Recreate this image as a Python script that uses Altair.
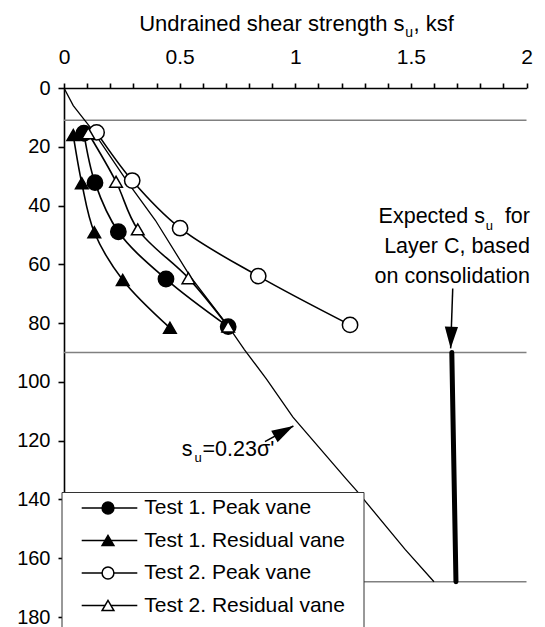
import altair as alt
import pandas as pd

FONT = "Liberation Sans"

# ---------------- data ----------------
series_names = ["Test 1. Peak vane", "Test 1. Residual vane",
                "Test 2. Peak vane", "Test 2. Residual vane"]
series_shapes = ["circle", "triangle-up", "circle", "triangle-up"]
series_fills = ["black", "black", "white", "white"]

depth_t1_peak = [15.4, 32.2, 48.9, 65.0, 81.2]
su_t1_peak = [0.086, 0.134, 0.235, 0.441, 0.710]
depth_t1_res = [16.0, 32.4, 49.1, 65.3, 81.6]
su_t1_res = [0.040, 0.077, 0.131, 0.254, 0.458]
depth_t2_peak = [15.1, 31.5, 47.7, 64.0, 80.6]
su_t2_peak = [0.141, 0.295, 0.502, 0.840, 1.237]
depth_t2_res = [15.4, 31.9, 48.1, 64.7, 81.2]
su_t2_res = [0.105, 0.225, 0.319, 0.538, 0.710]

trend_depth = [0, 6, 11, 14, 32, 45, 64, 81, 89, 99, 112, 133, 137, 157, 168]
trend_su = [0, 0.04, 0.09, 0.12, 0.275, 0.395, 0.545, 0.71, 0.78, 0.875, 0.99, 1.22, 1.265, 1.475, 1.60]

layer_depths = [11, 90, 168]
layer_su_from = 0
layer_su_to = 2

expected_depth = [90, 168]
expected_su = [1.677, 1.695]

x_ticks = [round(i * 0.1, 1) for i in range(21)]
y_ticks = list(range(0, 181, 20))

rows = []
for name, ds, vs in zip(series_names,
                        [depth_t1_peak, depth_t1_res, depth_t2_peak, depth_t2_res],
                        [su_t1_peak, su_t1_res, su_t2_peak, su_t2_res]):
    for d, v in zip(ds, vs):
        rows.append({"series": name, "depth": d, "su": v})
pts = pd.DataFrame(rows)
trend = pd.DataFrame({"depth": trend_depth, "su": trend_su})
layers_df = pd.DataFrame({"depth": layer_depths})
expected_df = pd.DataFrame({"depth": expected_depth, "su": expected_su})
one = alt.Data(values=[{}])

# ---------------- scales / axes ----------------
xs = alt.Scale(domain=[0, 2], nice=False, zero=False)
ys = alt.Scale(domain=[0, 183.4], nice=False, zero=False, reverse=True)

x_axis = alt.Axis(orient="top", values=x_ticks, format="~g",
                  labelExpr="round(datum.value*10) % 5 == 0 ? datum.label : ''",
                  tickSize=5, tickWidth=1.6, tickColor="black",
                  domainColor="black", domainWidth=1.6,
                  labelFont=FONT, labelFontSize=21, labelColor="black",
                  labelPadding=16, labelFlush=False, labelOverlap=False,
                  grid=False, title=None, zindex=0)
y_axis = alt.Axis(orient="left", values=y_ticks,
                  tickSize=6, tickWidth=1.6, tickColor="black",
                  domainColor="black", domainWidth=1.6,
                  labelFont=FONT, labelFontSize=20, labelColor="black",
                  labelPadding=8, labelFlush=False, labelOverlap=False,
                  grid=False, title=None, zindex=0)

X = lambda f: alt.X(f, scale=xs, axis=x_axis)
Y = lambda f: alt.Y(f, scale=ys, axis=y_axis)
XD = lambda v: alt.XDatum(v, scale=xs, axis=x_axis)
YD = lambda v: alt.YDatum(v, scale=ys, axis=y_axis)

# ---------------- data layers ----------------
hlines = alt.Chart(layers_df).mark_rule(color="#808080", strokeWidth=1.5).encode(
    x=XD(layer_su_from), x2=alt.X2Datum(layer_su_to), y=Y("depth:Q"))

trend_line = alt.Chart(trend).mark_line(color="black", strokeWidth=1.3).encode(
    x=X("su:Q"), y=Y("depth:Q"), order="depth:Q")

expected_line = alt.Chart(expected_df).mark_line(
    color="black", strokeWidth=5, strokeCap="round").encode(
    x=X("su:Q"), y=Y("depth:Q"), order="depth:Q")

series_lines = alt.Chart(pts).mark_line(
    color="black", strokeWidth=1.6, interpolate="catmull-rom").encode(
    x=X("su:Q"), y=Y("depth:Q"), detail="series:N", order="depth:Q")

MARK_SIZE = {"circle": 235, "triangle-up": 160}
marker_layers = []
for name, shp, fil in zip(series_names, series_shapes, series_fills):
    marker_layers.append(
        alt.Chart(pts).transform_filter(alt.datum.series == name).mark_point(
            shape=shp, filled=True, fill=fil, stroke="black", strokeWidth=1.5,
            opacity=1, size=MARK_SIZE[shp]).encode(x=X("su:Q"), y=Y("depth:Q")))

# ---------------- annotations ----------------
def text_at(s, xv, yv, size, align="left"):
    return alt.Chart(one).mark_text(
        text=s, align=align, baseline="alphabetic", font=FONT,
        fontSize=size, color="black").encode(x=XD(xv), y=YD(yv))

def text_px(s, xp, yp, size, align="left", baseline="alphabetic"):
    return alt.Chart(one).mark_text(
        text=s, align=align, baseline=baseline, font=FONT,
        fontSize=size, color="black").encode(x=alt.value(xp), y=alt.value(yp))

HEAD = "M0,0L-0.61,-2L0.61,-2Z"

def arrow(x1, y1, x2, y2, ang):
    shaft = alt.Chart(one).mark_rule(color="black", strokeWidth=1.5).encode(
        x=XD(x1), y=YD(y1), x2=alt.X2Datum(x2), y2=alt.Y2Datum(y2))
    head = alt.Chart(one).mark_point(
        shape=HEAD, filled=True, color="black", opacity=1, size=471,
        angle=ang, strokeWidth=0).encode(x=XD(x2), y=YD(y2))
    return [shaft, head]

annotations = [
    text_px("Undrained shear strength s", 340.6, -57.5, 22, "right"),
    text_px("u", 341.3, -51.5, 14, "left"),
    text_px(", ksf", 349.6, -57.5, 22, "left"),
    text_at("Expected s", 1.8205, 46.0, 21.5, "right"),
    text_at("u", 1.824, 48.4, 13, "left"),
    text_at("for", 2.015, 46.0, 21.5, "right"),
    text_at("Layer C, based", 2.015, 56.2, 21.5, "right"),
    text_at("on consolidation", 2.015, 66.2, 21.5, "right"),
    text_at("s", 0.509, 125.1, 21.5, "left"),
    text_at("u", 0.564, 127.2, 13, "left"),
    text_at("=0.23σ'", 0.599, 125.1, 21.5, "left"),
]
annotations += arrow(1.681, 68.2, 1.672, 88.6, 2)
annotations += arrow(0.869, 120.3, 0.992, 115.0, 241)

# ---------------- legend (drawn box) ----------------
LEG_LEFT, LEG_RIGHT, LEG_TOP, LEG_BOTTOM = -2, 300, 404.5, 560
LEG_Y0, LEG_DY = 420, 32.5
legend_layers = [
    alt.Chart(one).mark_rect(fill="white", stroke="#333333", strokeWidth=1).encode(
        x=alt.value(LEG_LEFT), x2=alt.value(LEG_RIGHT),
        y=alt.value(LEG_TOP), y2=alt.value(LEG_BOTTOM))
]
for i, (name, shp, fil) in enumerate(zip(series_names, series_shapes, series_fills)):
    yc = LEG_Y0 + i * LEG_DY
    legend_layers.append(alt.Chart(one).mark_rule(color="black", strokeWidth=1.6).encode(
        x=alt.value(17.7), x2=alt.value(73.3), y=alt.value(yc)))
    legend_layers.append(alt.Chart(one).mark_point(
        shape=shp, filled=True, fill=fil, stroke="black", strokeWidth=1.5,
        opacity=1, size=140).encode(x=alt.value(44), y=alt.value(yc)))
    legend_layers.append(text_px(name, 80.2, yc, 21, "left", "middle"))

chart = alt.layer(
    hlines, trend_line, expected_line, series_lines, *marker_layers,
    *annotations, *legend_layers
).properties(
    width=462.5, height=539,
    autosize=alt.AutoSizeParams(type="none"),
    padding={"left": 64, "top": 88, "right": 18.5, "bottom": 0},
    background="white",
).configure_view(stroke=None)

chart.save("out.html", embed_options={"renderer": "svg", "actions": False})
